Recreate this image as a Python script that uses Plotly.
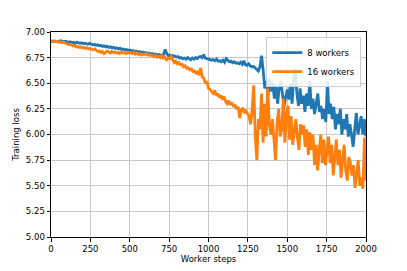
import numpy as np
import plotly.graph_objects as go

loss_8_workers = [
    6.91, 6.91, 6.915, 6.91, 6.905, 6.91, 6.915, 6.91, 6.905, 6.91, 6.905,
    6.90, 6.905, 6.895, 6.90, 6.89, 6.90, 6.895, 6.89, 6.895, 6.885, 6.89, 6.885, 6.88, 6.89, 6.88,
    6.875, 6.88, 6.87, 6.875, 6.865, 6.87, 6.86, 6.865, 6.855, 6.86, 6.85, 6.855, 6.845, 6.85, 6.84,
    6.845, 6.835, 6.84, 6.83, 6.835, 6.825, 6.83, 6.82, 6.825, 6.815,
    6.82, 6.81, 6.815, 6.805, 6.81, 6.80, 6.805, 6.795, 6.80, 6.79, 6.795, 6.785, 6.79, 6.78, 6.785,
    6.775, 6.78, 6.775, 6.77, 6.78,
    6.83, 6.79,
    6.77, 6.775, 6.765, 6.77, 6.76, 6.755, 6.76, 6.745, 6.75, 6.74, 6.745, 6.735, 6.75, 6.74, 6.73,
    6.745, 6.735, 6.75,
    6.74, 6.755, 6.76, 6.75, 6.78, 6.745, 6.74, 6.735, 6.73, 6.725,
    6.73, 6.72, 6.735, 6.715, 6.72, 6.71, 6.725, 6.705, 6.74, 6.72, 6.71, 6.715, 6.70, 6.71, 6.695,
    6.70, 6.69, 6.705, 6.685, 6.72, 6.68, 6.675, 6.69, 6.67, 6.66, 6.665, 6.65, 6.64, 6.62, 6.66, 6.77,
    6.63, 6.45, 6.52, 6.38, 6.55, 6.42, 6.50, 6.35, 6.48, 6.30, 6.45, 6.52, 6.40, 6.27, 6.36, 6.44,
    6.34, 6.50, 6.30, 6.55, 6.64,
    6.40, 6.28, 6.45, 6.30, 6.38, 6.22, 6.40, 6.28, 6.52, 6.25, 6.35, 6.20, 6.30, 6.40, 6.22, 6.28,
    6.15, 6.25, 6.12, 6.52,
    6.20, 6.30, 6.15, 6.27, 6.05, 6.20, 6.10, 6.25, 6.00, 6.15, 6.05, 6.20, 5.98, 6.10, 6.00, 5.88,
    6.05, 6.21, 6.00, 6.10, 6.18, 6.00, 6.15, 5.98,
]

loss_16_workers = [
    6.91, 6.905, 6.91, 6.905, 6.91, 6.90, 6.905, 6.895, 6.90, 6.89, 6.885,
    6.88, 6.875, 6.88, 6.865, 6.87, 6.855, 6.86, 6.85, 6.855, 6.845, 6.85, 6.84, 6.845, 6.835, 6.84,
    6.83, 6.825, 6.835, 6.82, 6.81, 6.815, 6.80, 6.81, 6.79, 6.80, 6.815, 6.805, 6.795, 6.81, 6.80,
    6.805, 6.795, 6.80, 6.79, 6.805, 6.795, 6.80, 6.79, 6.80, 6.795,
    6.80, 6.79, 6.805, 6.785, 6.795, 6.78, 6.79, 6.775, 6.785, 6.78, 6.79, 6.775, 6.78, 6.77, 6.775,
    6.76, 6.77, 6.755, 6.765, 6.75, 6.77, 6.745, 6.755, 6.73, 6.745,
    6.74, 6.76, 6.72, 6.70, 6.715, 6.69, 6.70, 6.68, 6.685, 6.66, 6.67, 6.645, 6.65, 6.63, 6.64,
    6.615, 6.62, 6.60, 6.61, 6.58, 6.65, 6.56, 6.55, 6.50, 6.52, 6.45,
    6.44, 6.42, 6.40, 6.43, 6.38, 6.40, 6.36, 6.38, 6.34, 6.37, 6.32, 6.30, 6.33, 6.29, 6.31,
    6.27, 6.29, 6.25, 6.27, 6.16, 6.24, 6.26, 6.21, 6.23, 6.20,
    6.18, 6.10, 6.25, 6.48, 5.98, 5.75, 6.15, 6.05, 6.40, 5.92, 6.30, 5.98, 6.45, 6.10, 6.00,
    6.15, 5.95, 5.75, 6.12, 6.25, 5.98, 6.05, 6.35, 5.92, 6.20,
    6.28, 5.95, 6.18, 5.90, 6.05, 6.15, 5.98, 5.85, 6.10, 6.00, 6.09, 5.88, 6.05, 5.80, 6.02,
    5.85, 6.00, 5.70, 5.90, 5.65, 5.85, 6.00, 5.72, 5.95, 5.70,
    5.85, 5.98, 5.72, 5.90, 5.60, 5.80, 5.95, 5.70, 5.85, 5.58, 5.75, 5.90, 5.65, 5.55, 5.78,
    5.72, 5.60, 5.70, 5.48, 5.62, 5.75, 5.50, 5.58, 5.47, 5.97, 5.55,
]

x_range = [0, 2000]
y_range = [5.0, 7.0]
x_ticks = [0, 250, 500, 750, 1000, 1250, 1500, 1750, 2000]
y_ticks = [5.00, 5.25, 5.50, 5.75, 6.00, 6.25, 6.50, 6.75, 7.00]

steps_8 = np.linspace(x_range[0], x_range[1], len(loss_8_workers))
steps_16 = np.linspace(x_range[0], x_range[1], len(loss_16_workers))

fig = go.Figure()
fig.add_trace(go.Scatter(x=steps_8, y=loss_8_workers, mode="lines", name="8 workers",
                         line=dict(color="#1f77b4", width=2.8)))
fig.add_trace(go.Scatter(x=steps_16, y=loss_16_workers, mode="lines", name="16 workers",
                         line=dict(color="#ff7f0e", width=2.8)))

axis_common = dict(showline=True, mirror=True, linecolor="black", linewidth=1,
                   ticks="outside", ticklen=3.5, tickcolor="black", tickwidth=1,
                   showgrid=True, gridcolor="#c8c8c8", gridwidth=1, zeroline=False,
                   tickfont=dict(size=8.5, color="black"))

fig.update_xaxes(range=x_range, tickvals=x_ticks, ticktext=[str(v) for v in x_ticks],
                 title=dict(text="Worker steps", font=dict(size=8.5, color="black"), standoff=2),
                 **axis_common)
fig.update_yaxes(range=y_range, tickvals=y_ticks, ticktext=[f"{v:.2f}" for v in y_ticks],
                 title=dict(text="Training loss", font=dict(size=8.5, color="black"), standoff=4),
                 **axis_common)

fig.update_layout(
    width=407, height=271,
    margin=dict(l=51, r=41, t=32, b=34, autoexpand=False),
    paper_bgcolor="white", plot_bgcolor="white",
    font=dict(family="DejaVu Sans", size=8.5, color="black"),
    legend=dict(x=0.985, y=0.975, xanchor="right", yanchor="top",
                bgcolor="rgba(255,255,255,0.85)", bordercolor="#cccccc", borderwidth=1,
                font=dict(size=8.5), tracegroupgap=0, itemwidth=30),
)

fig.write_html("out.html", config={"displayModeBar": False},
               post_script="document.body.style.margin='0';document.body.style.overflow='hidden';")
